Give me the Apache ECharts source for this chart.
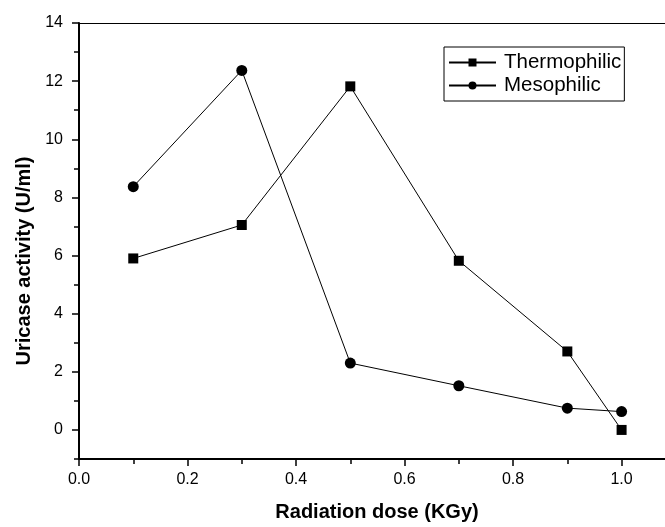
<!DOCTYPE html>
<html>
<head>
<meta charset="utf-8">
<script src="https://cdn.jsdelivr.net/npm/echarts@6/dist/echarts.min.js"></script>
<style>
  html, body { margin: 0; padding: 0; background: #fff; }
  #chart { width: 665px; height: 527px; }
</style>
</head>
<body>
<div id="chart"></div>
<script>
var doses = [0.1, 0.3, 0.5, 0.7, 0.9, 1.0];
var thermophilic = [5.9, 7.05, 11.82, 5.82, 2.7, 0.0];
var mesophilic = [8.37, 12.37, 2.3, 1.52, 0.75, 0.63];

var xMajor = [0, 0.2, 0.4, 0.6, 0.8, 1.0];
var xMinor = [0.1, 0.3, 0.5, 0.7, 0.9];
var yMajor = [0, 2, 4, 6, 8, 10, 12, 14];
var yMinor = [-1, 1, 3, 5, 7, 9, 11, 13];

function pairs(xs, ys) {
    return xs.map(function (x, i) { return [x, ys[i]]; });
}

var myChart = echarts.init(document.getElementById('chart'));

var font = 'Liberation Sans, Arial, sans-serif';
var black = '#000';

var option = {
    animation: false,
    grid: {
        left: 79,
        top: 23,
        right: 0,
        bottom: 66
    },
    legend: {
        orient: 'vertical',
        left: 444,
        top: 47,
        itemWidth: 47,
        itemHeight: 10,
        itemGap: 2,
        padding: [5, 3, 5, 4],
        borderColor: black,
        borderWidth: 1,
        textStyle: { fontFamily: font, fontSize: 20.5, color: black, padding: [0, 0, 0, 3] },
        data: ['Thermophilic', 'Mesophilic']
    },
    xAxis: [{
        type: 'value',
        min: 0,
        max: 1.08,
        name: 'Radiation dose (KGy)',
        nameLocation: 'middle',
        nameGap: 43,
        nameTextStyle: {
            fontFamily: font, fontSize: 20, fontWeight: 'bold', color: black,
            padding: [0, 0, 0, 10]
        },
        axisLine: { onZero: false, lineStyle: { color: black, width: 2 } },
        axisTick: { customValues: xMajor, length: 7, lineStyle: { color: black, width: 1.5 } },
        splitLine: { show: false },
        axisLabel: {
            customValues: xMajor,
            fontFamily: font, fontSize: 16, color: black, margin: 13,
            formatter: function (v) { return v.toFixed(1); }
        }
    }, {
        type: 'value',
        position: 'bottom',
        min: 0,
        max: 1.08,
        axisLine: { show: false, onZero: false },
        axisTick: { show: true, customValues: xMinor, length: 5, lineStyle: { color: black, width: 1.5 } },
        axisLabel: { show: false },
        splitLine: { show: false }
    }, {
        type: 'value',
        position: 'top',
        min: 0,
        max: 1.08,
        axisLine: { show: true, onZero: false, lineStyle: { color: black, width: 1 } },
        axisTick: { show: false },
        axisLabel: { show: false },
        splitLine: { show: false }
    }],
    yAxis: [{
        type: 'value',
        position: 'left',
        min: -1,
        max: 14,
        name: 'Uricase activity (U/ml)',
        nameLocation: 'middle',
        nameGap: 41,
        nameRotate: 90,
        nameTextStyle: {
            fontFamily: font, fontSize: 20, fontWeight: 'bold', color: black,
            padding: [0, 40, 0, 0]
        },
        axisLine: { show: true, onZero: false, lineStyle: { color: black, width: 2 } },
        axisTick: { customValues: yMajor, length: 7, lineStyle: { color: black, width: 1.5 } },
        splitLine: { show: false },
        axisLabel: {
            customValues: yMajor,
            fontFamily: font, fontSize: 16, color: black, margin: 16
        }
    }, {
        type: 'value',
        position: 'left',
        min: -1,
        max: 14,
        axisLine: { show: false, onZero: false },
        axisTick: { show: true, customValues: yMinor, length: 5, lineStyle: { color: black, width: 1.5 } },
        axisLabel: { show: false },
        splitLine: { show: false }
    }],
    series: [{
        name: 'Thermophilic',
        type: 'line',
        data: pairs(doses, thermophilic),
        symbol: 'rect',
        symbolSize: 10,
        color: black,
        lineStyle: { color: black, width: 1 },
        itemStyle: { color: black }
    }, {
        name: 'Mesophilic',
        type: 'line',
        data: pairs(doses, mesophilic),
        symbol: 'circle',
        symbolSize: 11,
        color: black,
        lineStyle: { color: black, width: 1 },
        itemStyle: { color: black }
    }]
};

myChart.setOption(option);
</script>
</body>
</html>
